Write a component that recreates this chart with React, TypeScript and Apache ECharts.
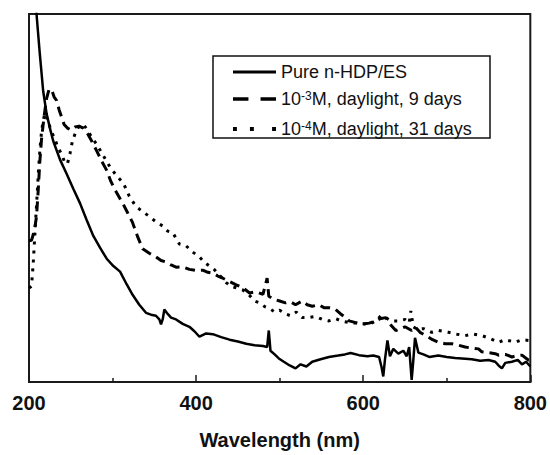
import React, { useEffect, useRef } from "react";
import * as echarts from "echarts";

const seriesNames = [
  "Pure n-HDP/ES",
  "10^-3M, daylight, 9 days",
  "10^-4M, daylight, 31 days",
];

const xTicks = [200, 400, 600, 800];

const pureNm = [203, 209, 213, 217, 221, 225, 229, 237, 245, 253, 261, 269, 277, 285, 293, 301, 309, 317, 324, 332, 340, 346, 352, 356, 358, 360, 362, 366, 370, 376, 384, 392, 398, 404, 412, 420, 430, 440, 450, 460, 470, 480, 485, 487, 489, 494, 499, 505, 512, 519, 525, 532, 539, 549, 559, 570, 578, 585, 595, 605, 612, 619, 622, 624, 626, 629, 632, 636, 642, 648, 652, 655, 658, 660, 662, 666, 672, 679, 690, 700, 710, 718, 730, 740, 750, 758, 762, 766, 770, 778, 785, 790, 795, 800];
const pureVal = [125, 100, 89, 79, 73, 69, 65.5, 60.5, 56.6, 52.5, 48.6, 44, 39.7, 36.5, 33.5, 31.5, 30, 26.5, 23.7, 21, 18.8, 18.3, 18, 17, 15.7, 17, 19.7, 18.5, 17.5, 17, 15.8, 15, 13.8, 12.3, 13.2, 13, 12.2, 11.5, 11, 10.4, 10, 9.8, 9.5, 14, 8.5, 7.5, 6.4, 5.5, 4.5, 3.7, 4.8, 4.2, 5.5, 6.2, 6.8, 7.2, 7.5, 7.9, 7.3, 7.0, 7.2, 6.8, 4, 1.5, 6, 11.3, 7, 9, 7.7, 8.5, 7, 9.5, 0.6, 6, 12, 8, 7.5, 6.8, 7.2, 6.8, 6.5, 6.4, 6.2, 5.8, 6.0, 5.5, 4.5, 3.7, 5.2, 5.5, 6.0, 4.8, 5.5, 4.2];

const dayNineNm = [200, 203, 205, 207, 209, 211, 213, 215, 218, 221, 224, 227, 230, 233, 236, 239, 242, 246, 250, 255, 260, 265, 270, 275, 281, 287, 293, 298, 303, 308, 313, 318, 324, 330, 336, 344, 352, 358, 364, 370, 376, 384, 392, 400, 408, 414, 420, 426, 432, 440, 448, 456, 464, 472, 480, 485, 487, 493, 500, 507, 513, 519, 527, 533, 539, 547, 553, 559, 567, 573, 579, 583, 590, 599, 607, 615, 620, 627, 633, 639, 645, 650, 658, 662, 668, 675, 683, 690, 698, 706, 714, 722, 730, 738, 742, 750, 758, 762, 770, 778, 785, 790, 798, 800];
const dayNineVal = [38.4, 38.5, 40, 42, 45, 52, 60, 66, 72, 77, 79.5, 79.5, 77.5, 76.5, 74, 72, 70, 69, 68.5, 69.3, 69.5, 69, 67.5, 65.5, 62.8, 60, 57.5, 54.5, 52.2, 50.2, 48.2, 46, 43.3, 39.5, 36.2, 35, 34, 33, 32.6, 31.8, 31.2, 31.3, 30.6, 30.3, 30.4, 29.8, 29.6, 28.8, 28.2, 27.3, 26.4, 25.6, 24.2, 24.5, 23.8, 28.2, 23.3, 22.5, 22, 21.5, 21.8, 21, 22, 21, 20.6, 21, 20.2, 20.2, 19.7, 18.5, 17.5, 16.6, 16.2, 15.7, 16, 16.5, 17.2, 17.5, 15.5, 14, 14.5, 15, 14, 15, 13.5, 12.6, 11.5, 10.8, 10.4, 10.4, 10, 9.5, 9.2, 9, 8.2, 8.0, 7.7, 7.3, 7.5, 6.8, 7.2, 7.3, 5.9, 6.5];

const dayThirtyOneNm = [200, 203, 205, 207, 209, 211, 213, 215, 217, 219, 221, 224, 227, 231, 235, 239, 243, 246, 249, 252, 256, 260, 265, 270, 275, 281, 289, 297, 305, 313, 320, 328, 336, 344, 352, 360, 366, 372, 380, 388, 396, 404, 410, 416, 422, 430, 436, 442, 448, 456, 464, 470, 476, 482, 488, 494, 500, 507, 513, 520, 527, 535, 543, 551, 559, 567, 575, 583, 591, 599, 607, 615, 621, 627, 633, 642, 650, 655, 657, 660, 665, 672, 682, 690, 702, 712, 722, 732, 742, 752, 762, 770, 782, 790, 798, 800];
const dayThirtyOneVal = [25.5, 26, 32, 40, 48, 56, 63, 68, 71, 73, 72, 70, 68, 66, 63.5, 62, 59.5, 59.3, 62, 65.5, 68, 69.5, 70, 68.5, 66.5, 64.6, 61.5, 58.4, 56, 54, 50.5, 47.7, 46.3, 45, 43.5, 42.4, 41, 40.6, 37.5, 37, 35.3, 34, 32.5, 31.5, 30.5, 28.5, 27, 26, 25.6, 25, 23.5, 22, 21.5, 20.5, 20, 19, 19.5, 18.5, 18, 19, 17.5, 17.5, 17.8, 17, 16.6, 17.2, 16.5, 16.2, 16, 15.8, 15.7, 16.5, 18, 17.5, 16.6, 16.6, 17, 16, 19.3, 15, 14.3, 14.5, 13.5, 14, 13.5, 13, 12.6, 13, 12.6, 11.8, 10.8, 11.5, 10.8, 11.5, 11.3, 11];

const zip = (xs: number[], ys: number[]) => xs.map((x, i) => [x, ys[i]]);

const FONT = "Arial, 'Liberation Sans', Helvetica, sans-serif";

export default function App() {
  const ref = useRef<HTMLDivElement>(null);
  useEffect(() => {
    document.body.style.margin = "0";
    if (!ref.current) return;
    const chart = echarts.init(ref.current, undefined, { renderer: "svg" });
    const legendFormatter = (name: string) => {
      const m = name.match(/^10\^(-\d)(.*)$/);
      if (m) return "{t|10}{sup|" + m[1] + "}{t|" + m[2] + "}";
      return "{t|" + name + "}";
    };
    chart.setOption({
      animation: false,
      backgroundColor: "#ffffff",
      grid: {
        left: 29,
        right: 18,
        top: 14,
        bottom: 66,
        show: true,
        borderColor: "#1a1a1a",
        borderWidth: 2,
        backgroundColor: "transparent",
      },
      xAxis: {
        type: "value",
        min: 200,
        max: 800,
        interval: 200,
        axisLine: { show: true, lineStyle: { color: "#1a1a1a", width: 2 } },
        axisTick: { show: true, inside: true, length: 7, lineStyle: { color: "#1a1a1a", width: 1.5 } },
        minorTick: { show: true, splitNumber: 2, length: 4, lineStyle: { color: "#1a1a1a", width: 1.5 } },
        splitLine: { show: false },
        axisLabel: {
          color: "#111",
          fontSize: 20,
          fontWeight: "bold",
          fontFamily: FONT,
          margin: 11,
          customValues: xTicks,
        },
        name: "Wavelength (nm)",
        nameLocation: "middle",
        nameGap: 48,
        nameTextStyle: { color: "#111", fontSize: 20, fontWeight: "bold", fontFamily: FONT },
      },
      yAxis: {
        type: "value",
        min: 0,
        max: 100,
        axisLine: { show: false },
        axisTick: { show: false },
        axisLabel: { show: false },
        splitLine: { show: false },
      },
      legend: {
        orient: "vertical",
        left: 233,
        top: 63,
        itemWidth: 43,
        itemHeight: 14,
        itemGap: 9,
        padding: 0,
        formatter: legendFormatter,
        textStyle: {
          fontFamily: FONT,
          color: "#111",
          rich: {
            t: { fontSize: 18, fontFamily: FONT, color: "#111", lineHeight: 18 },
            sup: { fontSize: 12, fontFamily: FONT, color: "#111", verticalAlign: "top", lineHeight: 18, padding: [0, 0, 9, 0] },
          },
        },
        data: [
          { name: seriesNames[0], icon: "path://M0,0 L43,0 L43,3 L0,3 Z" },
          { name: seriesNames[1], icon: "path://M0,0 L14,0 L14,3 L0,3 Z M25,0 L39,0 L39,3 L25,3 Z" },
          { name: seriesNames[2], icon: "path://M2,0 L5,0 L5,3 L2,3 Z M15,0 L18,0 L18,3 L15,3 Z M32,0 L35,0 L35,3 L32,3 Z" },
        ],
        itemStyle: { color: "#000" },
      },
      graphic: [
        {
          type: "rect",
          shape: { x: 213, y: 56, width: 277, height: 82 },
          style: { fill: "none", stroke: "#111", lineWidth: 1.5 },
          z: 10,
        },
      ],
      series: [
        {
          name: seriesNames[0],
          type: "line",
          data: zip(pureNm, pureVal),
          symbol: "none",
          clip: true,
          lineStyle: { color: "#000", width: 2.5 },
          itemStyle: { color: "#000" },
        },
        {
          name: seriesNames[1],
          type: "line",
          data: zip(dayNineNm, dayNineVal),
          symbol: "none",
          clip: true,
          lineStyle: { color: "#000", width: 3, type: [10, 6] },
          itemStyle: { color: "#000" },
        },
        {
          name: seriesNames[2],
          type: "line",
          data: zip(dayThirtyOneNm, dayThirtyOneVal),
          symbol: "none",
          clip: true,
          lineStyle: { color: "#000", width: 3, type: [3, 6] },
          itemStyle: { color: "#000" },
        },
      ],
    });
    return () => chart.dispose();
  }, []);
  return <div ref={ref} style={{ width: 550, height: 455 }} />;
}
